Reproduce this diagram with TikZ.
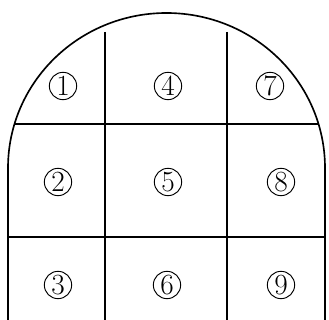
\documentclass[tikz,border=0pt]{standalone}
\usepackage{tikz}
\usetikzlibrary{positioning}
\usepackage{xcolor}

\begin{document}
\begin{tikzpicture}[
  x=0.03cm, y=0.03cm,
  every node/.style={font=\fontsize{25}{28}\selectfont},
  cnum/.style={draw, circle, line width=0.8pt, inner sep=0pt, minimum size=0.82cm},
  outline/.style={line width=1.4pt},
  grid/.style={line width=1.1pt}
]
  \useasboundingbox (0,0) rectangle (329,320);

  % Outer shape
  \draw[outline] (8,0) -- (8,152) arc[start angle=180, end angle=0, x radius=158.5, y radius=155] -- (325,0);

  % Grid lines
  \coordinate (h1l) at (14.5,196);
  \coordinate (h1r) at (318.5,196);
  \coordinate (h2l) at (8,83);
  \coordinate (h2r) at (325,83);
  \coordinate (v1t) at (105,288);
  \coordinate (v1b) at (105,0);
  \coordinate (v2t) at (227,288);
  \coordinate (v2b) at (227,0);
  \draw[grid] (h1l) -- (h1r);
  \draw[grid] (h2l) -- (h2r);
  \draw[grid] (v1t) -- (v1b);
  \draw[grid] (v2t) -- (v2b);

  % Top row
  \node[cnum] (n1) at (63,234) {1};
  \node[cnum] (n4) at (168,234) {4};
  \node[cnum] (n7) at (270,234) {7};

  % Middle row
  \node[cnum] (n2) at (58,138) {2};
  \node[cnum] (n5) at (168,138) {5};
  \node[cnum] (n8) at (281,138) {8};

  % Bottom row
  \node[cnum] (n3) at (58,35) {3};
  \node[cnum] (n6) at (167,35) {6};
  \node[cnum] (n9) at (281,35) {9};
\end{tikzpicture}
\end{document}
